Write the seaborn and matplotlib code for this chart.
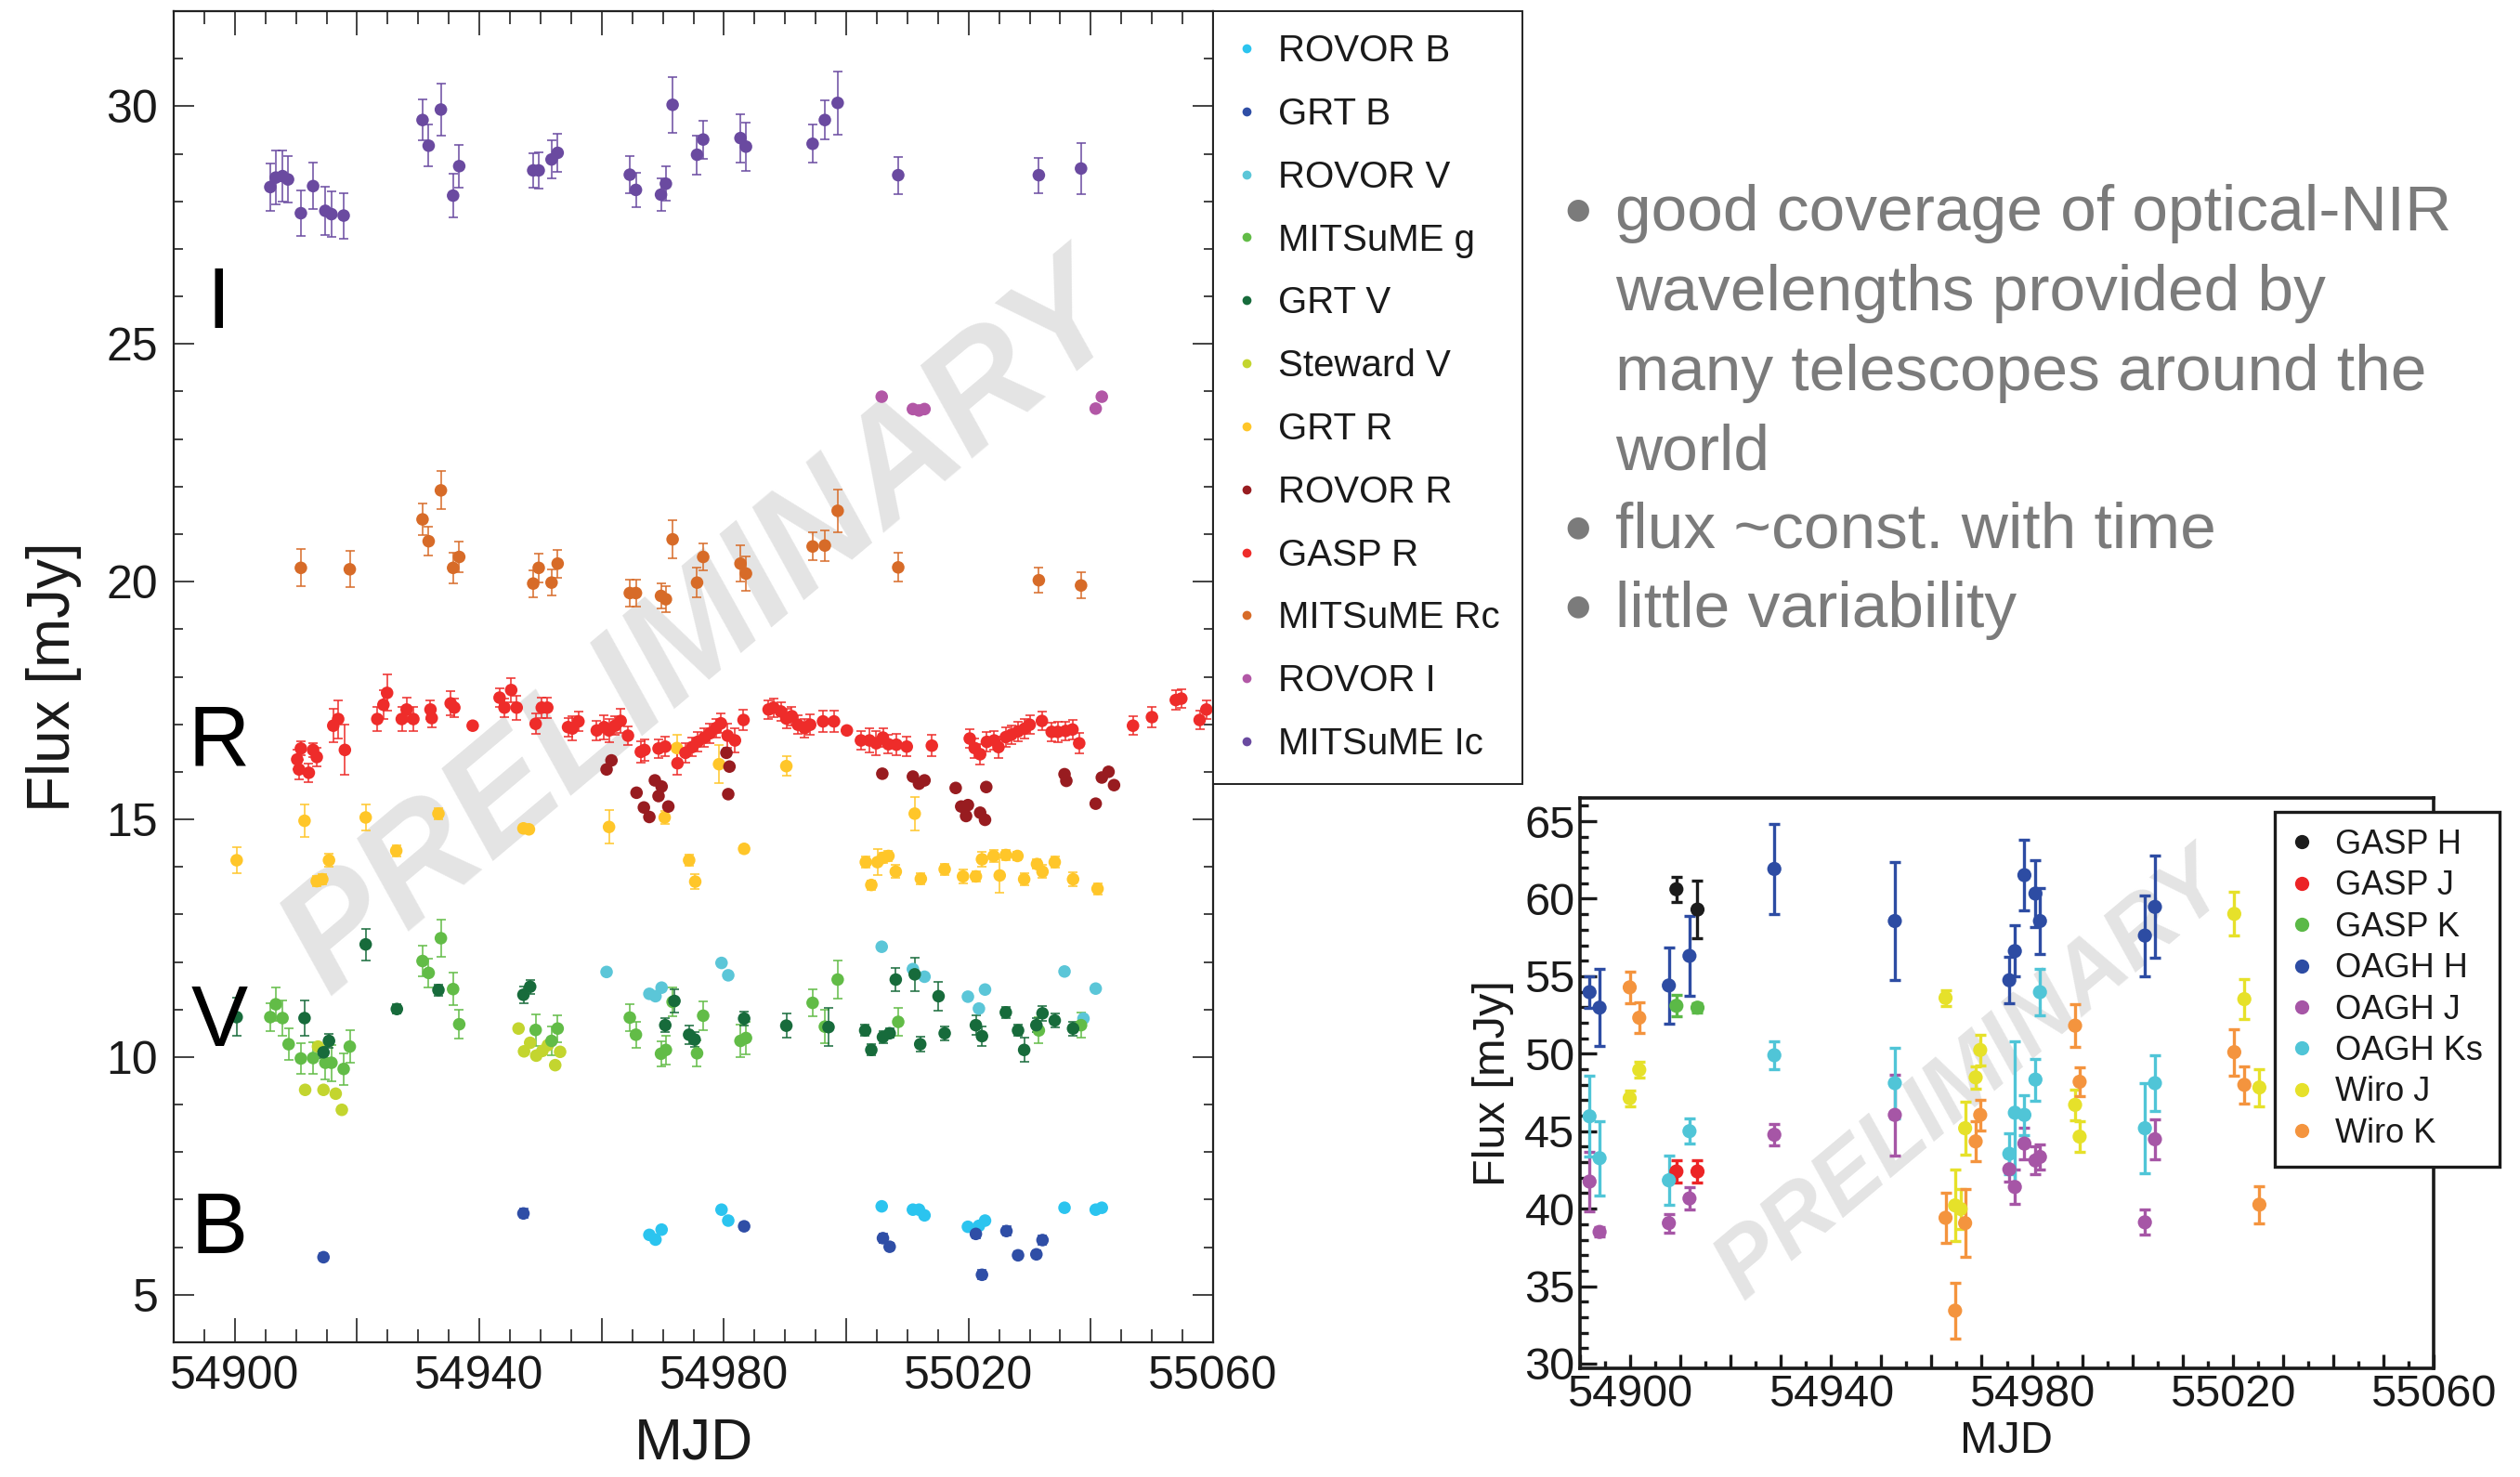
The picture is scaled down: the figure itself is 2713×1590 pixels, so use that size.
import numpy as np
import pandas as pd
import matplotlib
matplotlib.use("Agg")
import matplotlib.pyplot as plt
from matplotlib.ticker import MultipleLocator, FuncFormatter
from matplotlib.lines import Line2D
import seaborn as sns

# ---------------- Left panel data (optical) ----------------
ic_mjd = [54905.8, 54906.7, 54907.8, 54908.7, 54910.8, 54912.8, 54914.8, 54915.8, 54917.8,
          54930.7, 54931.7, 54933.7, 54935.7, 54936.7, 54948.8, 54949.7, 54951.8, 54952.8,
          54964.6, 54965.6, 54969.7, 54970.5, 54971.6, 54975.6, 54976.6, 54982.7, 54983.6,
          54994.5, 54996.5, 54998.6, 55008.5, 55031.5, 55038.4]
ic_flux = [28.30, 28.50, 28.53, 28.46, 27.75, 28.32, 27.80, 27.73, 27.70,
           29.71, 29.17, 29.93, 28.12, 28.74, 28.65, 28.65, 28.88, 29.02,
           28.56, 28.24, 28.14, 28.37, 30.03, 28.98, 29.30, 29.33, 29.15,
           29.21, 29.71, 30.07, 28.55, 28.55, 28.69]
ic_err = [0.50, 0.57, 0.53, 0.49, 0.47, 0.49, 0.51, 0.48, 0.48,
          0.43, 0.44, 0.54, 0.46, 0.45, 0.37, 0.38, 0.40, 0.40,
          0.39, 0.36, 0.35, 0.36, 0.58, 0.41, 0.40, 0.51, 0.51,
          0.40, 0.41, 0.66, 0.39, 0.37, 0.54]

rovi_mjd = [55005.8, 55010.9, 55011.9, 55012.8, 55040.8, 55041.8]
rovi_flux = [23.89, 23.63, 23.60, 23.63, 23.64, 23.89]

rc_mjd = [54910.8, 54918.8, 54930.7, 54931.7, 54933.7, 54935.7, 54936.7, 54948.8, 54949.7,
          54951.8, 54952.8, 54964.6, 54965.6, 54969.7, 54970.5, 54971.6, 54975.6, 54976.6,
          54982.7, 54983.6, 54994.5, 54996.5, 54998.6, 55008.5, 55031.5, 55038.4]
rc_flux = [20.29, 20.26, 21.31, 20.85, 21.92, 20.29, 20.52, 19.96, 20.29,
           19.98, 20.38, 19.76, 19.76, 19.70, 19.63, 20.89, 19.98, 20.52,
           20.38, 20.17, 20.74, 20.76, 21.49, 20.30, 20.03, 19.92]
rc_err = [0.39, 0.38, 0.33, 0.30, 0.40, 0.32, 0.32, 0.28, 0.30,
          0.28, 0.29, 0.28, 0.28, 0.26, 0.28, 0.40, 0.31, 0.29,
          0.38, 0.37, 0.29, 0.32, 0.45, 0.30, 0.27, 0.27]

gaspr_mjd = [54910.2, 54910.5, 54910.8, 54912.1, 54912.8, 54913.4, 54916.1, 54916.9, 54918.0,
             54923.3, 54924.3, 54924.9, 54927.3, 54928.1, 54929.2, 54932.0, 54932.2, 54935.3,
             54935.9, 54938.9, 54943.3, 54944.1, 54945.2, 54946.1, 54949.2, 54950.2, 54951.1,
             54954.5, 54955.2, 54956.2, 54959.2, 54960.4, 54961.2, 54962.2, 54963.1, 54964.3,
             54966.4, 54967.0, 54969.3, 54970.4, 54972.4, 54973.7, 54974.8, 54975.7, 54976.8,
             54977.7, 54978.7, 54979.5, 54980.6, 54981.8, 54983.2, 54987.3, 54988.1, 54989.3,
             54990.2, 54991.1, 54992.1, 54993.2, 54994.1, 54996.2, 54998.0, 55000.1, 55002.4,
             55003.8, 55004.9, 55006.0, 55006.9, 55008.2, 55009.9, 55014.0, 55020.2, 55021.0,
             55021.9, 55023.0, 55024.2, 55024.9, 55026.1, 55027.0, 55028.1, 55029.2, 55030.0,
             55032.0, 55033.6, 55034.6, 55035.9, 55037.0, 55038.1, 55046.9, 55050.0, 55053.9,
             55054.8, 55057.8, 55058.9]
gaspr_flux = [16.26, 16.05, 16.49, 15.98, 16.46, 16.31, 16.97, 17.11, 16.46,
              17.11, 17.41, 17.66, 17.11, 17.31, 17.11, 17.31, 17.13, 17.44,
              17.35, 16.97, 17.56, 17.35, 17.72, 17.35, 17.01, 17.35, 17.35,
              16.94, 16.91, 17.06, 16.87, 16.94, 16.87, 16.97, 17.07, 16.76,
              16.42, 16.46, 16.49, 16.53, 16.18, 16.40, 16.52, 16.63, 16.72,
              16.81, 16.92, 17.02, 16.76, 16.66, 17.09, 17.31, 17.35, 17.27,
              17.12, 17.17, 16.99, 16.92, 16.99, 17.06, 17.06, 16.87, 16.66,
              16.66, 16.60, 16.72, 16.58, 16.57, 16.53, 16.55, 16.70, 16.50,
              16.37, 16.63, 16.66, 16.52, 16.73, 16.78, 16.85, 16.91, 16.99,
              17.07, 16.84, 16.84, 16.86, 16.89, 16.60, 16.97, 17.15, 17.51,
              17.54, 17.09, 17.31]
gaspr_err = [0.20, 0.20, 0.15, 0.20, 0.15, 0.20, 0.35, 0.40, 0.53,
             0.25, 0.30, 0.38, 0.25, 0.25, 0.25, 0.20, 0.20, 0.25,
             0.20, 0.00, 0.20, 0.20, 0.25, 0.25, 0.22, 0.22, 0.22,
             0.20, 0.25, 0.20, 0.20, 0.25, 0.25, 0.20, 0.25, 0.20,
             0.22, 0.22, 0.20, 0.20, 0.25, 0.20, 0.20, 0.20, 0.20,
             0.20, 0.20, 0.20, 0.25, 0.25, 0.22, 0.20, 0.20, 0.20,
             0.20, 0.20, 0.20, 0.20, 0.22, 0.22, 0.22, 0.00, 0.20,
             0.25, 0.25, 0.20, 0.20, 0.22, 0.20, 0.22, 0.20, 0.20,
             0.22, 0.20, 0.20, 0.22, 0.20, 0.20, 0.20, 0.20, 0.20,
             0.20, 0.20, 0.22, 0.20, 0.20, 0.22, 0.20, 0.22, 0.20,
             0.20, 0.20, 0.20]

rovr_mjd = [54960.8, 54961.6, 54965.7, 54966.9, 54967.8, 54968.7, 54969.3, 54969.8, 54970.9,
            54980.4, 54980.9, 54980.7, 55005.9, 55010.9, 55011.9, 55012.8, 55017.9, 55018.8,
            55019.9, 55019.6, 55021.9, 55022.7, 55022.9, 55035.7, 55036.0, 55040.8, 55041.8,
            55042.9, 55043.8]
rovr_flux = [16.05, 16.24, 15.56, 15.25, 15.05, 15.82, 15.49, 15.69, 15.27,
             16.40, 16.11, 15.53, 15.96, 15.90, 15.75, 15.82, 15.66, 15.27,
             15.30, 15.07, 15.14, 14.99, 15.68, 15.95, 15.81, 15.33, 15.88,
             16.00, 15.72]

grtr_mjd = [54900.3, 54911.4, 54913.4, 54914.3, 54915.4, 54921.4, 54926.4, 54933.3, 54947.2,
            54948.1, 54961.2, 54970.3, 54972.3, 54974.3, 54975.3, 54979.2, 54983.3, 54990.2,
            55003.2, 55004.1, 55005.1, 55006.0, 55006.9, 55008.1, 55011.2, 55012.2, 55016.1,
            55019.1, 55021.2, 55022.2, 55024.1, 55025.1, 55026.1, 55028.0, 55029.1, 55031.2,
            55032.1, 55034.1, 55037.1, 55041.1]
grtr_flux = [14.14, 14.97, 13.70, 13.74, 14.14, 15.04, 14.34, 15.12, 14.81,
             14.79, 14.84, 15.04, 16.50, 14.14, 13.69, 16.16, 14.38, 16.12,
             14.10, 13.62, 14.10, 14.19, 14.23, 13.90, 15.12, 13.75, 13.95,
             13.80, 13.80, 14.16, 14.23, 13.82, 14.25, 14.23, 13.74, 14.06,
             13.90, 14.10, 13.74, 13.54]
grtr_err = [0.28, 0.35, 0.10, 0.10, 0.14, 0.27, 0.12, 0.12, 0.08,
            0.08, 0.35, 0.14, 0.28, 0.12, 0.16, 0.40, 0.08, 0.20,
            0.12, 0.10, 0.28, 0.10, 0.10, 0.14, 0.35, 0.12, 0.12,
            0.14, 0.10, 0.16, 0.12, 0.37, 0.10, 0.08, 0.12, 0.10,
            0.14, 0.12, 0.14, 0.12]

grtv_mjd = [54900.3, 54911.4, 54914.5, 54915.4, 54921.4, 54926.5, 54933.3, 54947.2, 54948.3,
            54970.4, 54971.9, 54974.3, 54975.2, 54983.3, 54990.2, 54997.1, 55003.1, 55004.1,
            55006.0, 55007.1, 55008.1, 55011.2, 55012.1, 55015.1, 55016.1, 55021.2, 55022.2,
            55026.1, 55028.1, 55029.1, 55031.1, 55032.1, 55034.1, 55037.1]
grtv_flux = [10.84, 10.82, 10.10, 10.34, 12.37, 11.01, 11.41, 11.31, 11.48,
             10.67, 11.18, 10.47, 10.37, 10.81, 10.66, 10.63, 10.56, 10.15,
             10.42, 10.50, 11.63, 11.74, 10.27, 11.28, 10.50, 10.67, 10.44,
             10.94, 10.56, 10.15, 10.67, 10.92, 10.77, 10.60]
grtv_err = [0.40, 0.38, 0.12, 0.15, 0.33, 0.10, 0.12, 0.18, 0.15,
            0.15, 0.25, 0.20, 0.15, 0.15, 0.25, 0.40, 0.12, 0.12,
            0.12, 0.10, 0.25, 0.35, 0.15, 0.30, 0.15, 0.20, 0.20,
            0.12, 0.12, 0.25, 0.15, 0.15, 0.15, 0.15]

mitg_mjd = [54905.8, 54906.7, 54907.8, 54908.8, 54910.8, 54912.8, 54914.8, 54915.8, 54917.8,
            54918.8, 54930.7, 54931.7, 54933.7, 54935.7, 54936.7, 54949.2, 54951.8, 54952.8,
            54964.6, 54965.6, 54969.7, 54970.5, 54971.6, 54975.6, 54976.6, 54982.7, 54983.6,
            54994.5, 54996.5, 54998.6, 55008.5, 55031.5, 55038.4]
mitg_flux = [10.84, 11.11, 10.82, 10.27, 9.97, 9.98, 9.88, 9.88, 9.75,
             10.22, 12.02, 11.77, 12.50, 11.43, 10.69, 10.57, 10.34, 10.60,
             10.83, 10.47, 10.07, 10.15, 11.16, 10.08, 10.87, 10.34, 10.40,
             11.14, 10.64, 11.63, 10.74, 10.56, 10.67]
mitg_err = [0.30, 0.35, 0.38, 0.33, 0.32, 0.33, 0.35, 0.38, 0.33,
            0.34, 0.33, 0.30, 0.40, 0.34, 0.30, 0.33, 0.30, 0.28,
            0.28, 0.27, 0.27, 0.30, 0.30, 0.27, 0.30, 0.35, 0.35,
            0.28, 0.35, 0.40, 0.30, 0.27, 0.27]

stew_mjd = [54911.5, 54913.6, 54914.5, 54916.5, 54917.5, 54946.4, 54947.3, 54948.3, 54949.3,
            54950.3, 54951.2, 54952.4, 54953.2]
stew_flux = [9.31, 10.22, 9.31, 9.23, 8.89, 10.60, 10.12, 10.30, 10.03,
             10.13, 10.25, 9.83, 10.11]

rovv_mjd = [54960.8, 54967.8, 54968.8, 54969.8, 54979.6, 54980.7, 55005.8, 55010.9, 55012.8,
            55019.9, 55022.7, 55021.7, 55035.7, 55040.8, 55038.8]
rovv_flux = [11.79, 11.33, 11.28, 11.46, 11.98, 11.72, 12.32, 11.85, 11.69,
             11.27, 11.42, 11.02, 11.80, 11.44, 10.81]

grtb_mjd = [54914.5, 54947.2, 54983.3, 55006.0, 55007.1, 55021.2, 55022.2, 55026.2, 55028.1,
            55031.1, 55032.1]
grtb_flux = [5.79, 6.71, 6.44, 6.19, 6.01, 6.28, 5.42, 6.34, 5.83, 5.85, 6.15]
grtb_err = [0.08, 0.10, 0.08, 0.10, 0.08, 0.10, 0.10, 0.10, 0.08, 0.08, 0.10]

rovb_mjd = [54967.8, 54968.8, 54969.8, 54979.6, 54980.7, 55005.8, 55010.9, 55011.9, 55012.8,
            55019.9, 55021.7, 55022.7, 55035.7, 55040.8, 55041.8]
rovb_flux = [6.26, 6.16, 6.37, 6.79, 6.56, 6.86, 6.79, 6.79, 6.67,
             6.43, 6.45, 6.56, 6.83, 6.79, 6.83]

left_labels = ["ROVOR B", "GRT B", "ROVOR V", "MITSuME g", "GRT V", "Steward V",
               "GRT R", "ROVOR R", "GASP R", "MITSuME Rc", "ROVOR I", "MITSuME Ic"]
left_colors = ["#2BC4EF", "#2F4EA6", "#5BC6D8", "#62BC47", "#176B3B", "#C3D52F",
               "#FFC629", "#981C20", "#EE2C2A", "#D76B28", "#B257A6", "#6A4AA0"]

# ---------------- Right panel data (NIR) ----------------
gasph_mjd = [54909.2, 54913.4]; gasph_flux = [60.61, 59.30]; gasph_err = [0.8, 1.85]
gaspj_mjd = [54909.2, 54913.4]; gaspj_flux = [42.40, 42.40]; gaspj_err = [0.7, 0.7]
gaspk_mjd = [54909.2, 54913.4]; gaspk_flux = [53.09, 52.97]; gaspk_err = [0.7, 0.3]
oaghh_mjd = [54891.9, 54893.9, 54907.7, 54911.8, 54928.7, 54952.7, 54975.5, 54976.6,
             54978.5, 54980.7, 54981.6, 55002.5, 55004.5]
oaghh_flux = [53.97, 52.97, 54.40, 56.31, 61.92, 58.56, 54.74, 56.62, 61.52, 60.33, 58.56,
              57.62, 59.47]
oaghh_err = [1.0, 2.5, 2.45, 2.6, 2.9, 3.8, 1.5, 1.65, 2.3, 2.15, 2.1, 2.6, 3.3]
oaghj_mjd = oaghh_mjd
oaghj_flux = [41.75, 38.50, 39.07, 40.66, 44.77, 46.05, 42.54, 41.40, 44.20, 43.11, 43.34,
              39.12, 44.48]
oaghj_err = [1.9, 0.3, 0.6, 0.7, 0.7, 2.6, 0.8, 1.1, 1.0, 0.9, 0.8, 0.8, 1.3]
oaghk_mjd = oaghh_mjd
oaghk_flux = [45.96, 43.26, 41.83, 45.00, 49.90, 48.10, 43.54, 46.19, 46.05, 48.33, 53.97,
              45.19, 48.10]
oaghk_err = [2.6, 2.4, 1.6, 0.8, 0.9, 2.3, 1.3, 4.6, 1.3, 1.35, 1.5, 2.9, 1.8]
wiroj_mjd = [54899.9, 54901.8, 54962.8, 54964.7, 54965.8, 54966.7, 54968.8, 54969.7,
             54988.6, 54989.5, 55020.3, 55022.3, 55025.3]
wiroj_flux = [47.13, 48.96, 53.60, 40.21, 39.98, 45.19, 48.47, 50.24, 46.70, 44.65, 59.02,
              53.52, 47.82]
wiroj_err = [0.5, 0.5, 0.5, 2.3, 1.3, 1.7, 0.7, 1.0, 1.0, 1.0, 1.4, 1.3, 1.2]
wirok_mjd = [54899.9, 54901.8, 54962.8, 54964.7, 54966.7, 54968.8, 54969.7, 54988.6,
             54989.5, 55020.3, 55022.3, 55025.3]
wirok_flux = [54.28, 52.32, 39.41, 33.42, 39.07, 44.34, 46.05, 51.81, 48.19, 50.10, 47.99,
              40.26]
wirok_err = [1.0, 1.0, 1.6, 1.8, 2.2, 1.3, 1.0, 1.4, 0.9, 1.5, 1.2, 1.2]

right_labels = ["GASP H", "GASP J", "GASP K", "OAGH H", "OAGH J", "OAGH Ks", "Wiro J", "Wiro K"]
right_colors = ["#1C1C1C", "#EC2426", "#5BB947", "#2D4CA3", "#A656A6", "#50C5D7", "#E6E12A", "#F4943E"]

# ---------------- Build frames ----------------
left_series = [
    ("MITSuME Ic", ic_mjd, ic_flux, ic_err),
    ("ROVOR I", rovi_mjd, rovi_flux, None),
    ("MITSuME Rc", rc_mjd, rc_flux, rc_err),
    ("GRT R", grtr_mjd, grtr_flux, grtr_err),
    ("ROVOR R", rovr_mjd, rovr_flux, None),
    ("GASP R", gaspr_mjd, gaspr_flux, gaspr_err),
    ("Steward V", stew_mjd, stew_flux, None),
    ("ROVOR V", rovv_mjd, rovv_flux, None),
    ("MITSuME g", mitg_mjd, mitg_flux, mitg_err),
    ("GRT V", grtv_mjd, grtv_flux, grtv_err),
    ("ROVOR B", rovb_mjd, rovb_flux, None),
    ("GRT B", grtb_mjd, grtb_flux, grtb_err),
]
right_series = [
    ("GASP H", gasph_mjd, gasph_flux, gasph_err),
    ("GASP J", gaspj_mjd, gaspj_flux, gaspj_err),
    ("GASP K", gaspk_mjd, gaspk_flux, gaspk_err),
    ("OAGH H", oaghh_mjd, oaghh_flux, oaghh_err),
    ("OAGH J", oaghj_mjd, oaghj_flux, oaghj_err),
    ("OAGH Ks", oaghk_mjd, oaghk_flux, oaghk_err),
    ("Wiro J", wiroj_mjd, wiroj_flux, wiroj_err),
    ("Wiro K", wirok_mjd, wirok_flux, wirok_err),
]

def to_df(series):
    rows = []
    for name, m, f, e in series:
        for i in range(len(m)):
            rows.append((name, m[i], f[i], 0.0 if e is None else e[i]))
    return pd.DataFrame(rows, columns=["band", "mjd", "flux", "err"])

df_left = to_df(left_series)
df_right = to_df(right_series)
pal_left = dict(zip(left_labels, left_colors))
pal_right = dict(zip(right_labels, right_colors))

# ---------------- Figure ----------------
sns.set_theme(style="ticks")
plt.rcParams["font.family"] = ["Liberation Sans", "DejaVu Sans"]
plt.rcParams["axes.unicode_minus"] = False

W, H = 2713, 1590
fig = plt.figure(figsize=(W / 100, H / 100), dpi=100)
fig.patch.set_facecolor("white")

def fax(l, t, r, b):
    return fig.add_axes([l / W, 1 - b / H, (r - l) / W, (b - t) / H])

ax = fax(187, 12, 1306, 1445)
ax2 = fax(1701, 859, 2620, 1473)

# --- watermarks ---
ax.text(0.51, 0.535, "PRELIMINARY", transform=ax.transAxes, rotation=40,
        fontsize=118, fontweight="bold", fontstyle="italic", color="#e4e4e4",
        ha="center", va="center", zorder=0.5, family=["Liberation Sans", "DejaVu Sans"])
ax2.text(0.46, 0.51, "PRELIMINARY", transform=ax2.transAxes, rotation=40,
         fontsize=72, fontweight="bold", fontstyle="italic", color="#e4e4e4",
         ha="center", va="center", zorder=0.5, family=["Liberation Sans", "DejaVu Sans"])

# --- left panel ---
for name, m, f, e in left_series:
    if e is not None:
        ax.errorbar(m, f, yerr=e, fmt="none", ecolor=pal_left[name], elinewidth=1.1,
                    capsize=3.6, capthick=1.1, zorder=2)
sns.scatterplot(data=df_left, x="mjd", y="flux", hue="band", palette=pal_left,
                hue_order=[s[0] for s in left_series], s=95, edgecolor="none",
                legend=False, ax=ax, zorder=3)

ax.set_xlim(54890, 55060)
ax.set_ylim(4, 32)
ax.xaxis.set_major_locator(MultipleLocator(20))
ax.xaxis.set_minor_locator(MultipleLocator(5))
ax.xaxis.set_major_formatter(FuncFormatter(
    lambda v, p: f"{int(round(v))}" if int(round(v - 54900)) % 40 == 0 else ""))
ax.yaxis.set_major_locator(MultipleLocator(5))
ax.yaxis.set_minor_locator(MultipleLocator(1))
ax.tick_params(axis="both", which="both", direction="in", top=True, right=True,
               colors="#222222", width=1.2, labelsize=36, labelcolor="#1a1a1a")
ax.tick_params(axis="x", which="major", length=19, pad=10)
ax.tick_params(axis="x", which="minor", length=10)
ax.tick_params(axis="y", which="major", length=16, pad=12)
ax.tick_params(axis="y", which="minor", length=7)
for sp in ax.spines.values():
    sp.set_linewidth(1.6)
    sp.set_color("#222222")
ax.set_xlabel("MJD", fontsize=45, labelpad=14, color="#1a1a1a")
ax.set_ylabel("Flux [mJy]", fontsize=46, labelpad=19, color="#1a1a1a")

for lab, yv in [("I", 25.8), ("R", 16.6), ("V", 10.7), ("B", 6.35)]:
    ax.text(54897.4, yv, lab, fontsize=66, ha="center", va="center", color="black", zorder=4)

handles = [Line2D([], [], marker="o", linestyle="none", markersize=7,
                  markerfacecolor=c, markeredgecolor="none") for c in left_colors]
leg = ax.legend(handles, left_labels, loc="upper left", bbox_to_anchor=(1.0, 1.0),
                fontsize=29, frameon=True, fancybox=False, framealpha=1,
                edgecolor="#222222", borderpad=0.6, labelspacing=0.74,
                handlelength=0.6, handletextpad=0.55, borderaxespad=0.0)
leg.get_frame().set_linewidth(1.4)
for t in leg.get_texts():
    t.set_color("#1a1a1a")

# --- right panel ---
for name, m, f, e in right_series:
    ax2.errorbar(m, f, yerr=e, fmt="none", ecolor=pal_right[name], elinewidth=2.4,
                 capsize=4.3, capthick=2.4, zorder=2)
sns.scatterplot(data=df_right, x="mjd", y="flux", hue="band", palette=pal_right,
                hue_order=right_labels, s=120, edgecolor="none", legend=False,
                ax=ax2, zorder=3)
ax2.set_xlim(54890, 55060)
ax2.set_ylim(29.7, 66.5)
ax2.xaxis.set_major_locator(MultipleLocator(10))
ax2.xaxis.set_minor_locator(MultipleLocator(5))
ax2.xaxis.set_major_formatter(FuncFormatter(
    lambda v, p: f"{int(round(v))}" if int(round(v - 54900)) % 40 == 0 else ""))
ax2.yaxis.set_major_locator(MultipleLocator(5))
ax2.yaxis.set_minor_locator(MultipleLocator(1))
ax2.tick_params(axis="both", which="both", direction="in", top=False, right=False,
                colors="#1a1a1a", width=2.4, labelsize=35, labelcolor="#1a1a1a")
ax2.tick_params(axis="x", which="major", length=11, pad=4)
ax2.tick_params(axis="x", which="minor", length=6)
ax2.tick_params(axis="y", which="major", length=13, pad=4)
ax2.tick_params(axis="y", which="minor", length=6.5)
for sp in ax2.spines.values():
    sp.set_linewidth(2.6)
    sp.set_color("#1a1a1a")
ax2.set_xlabel("MJD", fontsize=35, labelpad=4, color="#1a1a1a")
ax2.set_ylabel("Flux [mJy]", fontsize=35, labelpad=8, color="#1a1a1a")

handles2 = [Line2D([], [], marker="o", linestyle="none", markersize=11,
                   markerfacecolor=c, markeredgecolor="none") for c in right_colors]
leg2 = fig.legend(handles2, right_labels, loc="upper right",
                  bbox_to_anchor=(2691 / W, 1 - 874 / H), bbox_transform=fig.transFigure,
                  fontsize=26, frameon=True, fancybox=False, framealpha=1,
                  edgecolor="#1a1a1a", borderpad=0.5, labelspacing=0.26,
                  handlelength=0.6, handletextpad=0.7, borderaxespad=0.0)
leg2.get_frame().set_linewidth(2.4)
for t in leg2.get_texts():
    t.set_color("#1a1a1a")

# --- bullet text ---
lines = [
    (230, True, "good coverage of optical-NIR"),
    (316, False, "wavelengths provided by"),
    (402, False, "many telescopes around the"),
    (487, False, "world"),
    (572, True, "flux ~const. with time"),
    (657, True, "little variability"),
]
for y, bullet, txt in lines:
    fig.text(1739 / W, 1 - y / H, txt, fontsize=50, color="#7b7b7b", ha="left", va="center")
    if bullet:
        fig.text(1699 / W, 1 - (y - 4) / H, "\u25CF", fontsize=22, color="#7b7b7b",
                 ha="center", va="center", family=["DejaVu Sans"])

fig.savefig("out.png", dpi=100, facecolor="white")
